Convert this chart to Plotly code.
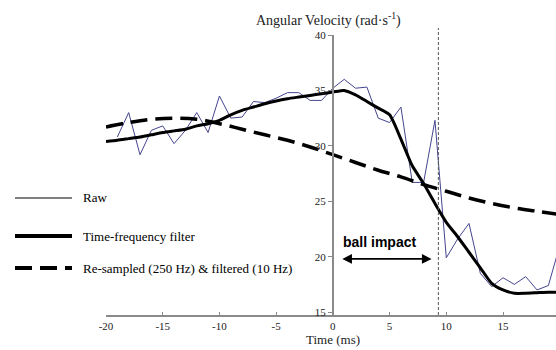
import plotly.graph_objects as go

# ---- data ----
raw_t = list(range(-19, 21))
raw_v = [30.8, 33.0, 29.2, 31.4, 31.8, 30.2, 31.4, 33.0, 31.2, 34.5,
         32.5, 32.6, 34.0, 33.9, 34.3, 34.8, 34.8, 34.1, 34.1, 35.2,
         36.0, 35.2, 35.3, 32.5, 32.1, 33.5, 26.7, 26.7, 32.3, 19.9,
         21.6, 23.0, 18.5, 17.3, 18.1, 17.5, 18.2, 17.0, 17.4, 21.0]

tf_t = list(range(-20, 21))
tf_v = [30.4, 30.5, 30.65, 30.8, 31.0, 31.2, 31.35, 31.5, 31.8, 32.0,
        32.3, 32.8, 33.2, 33.5, 33.8, 34.05, 34.25, 34.4, 34.55, 34.7,
        34.85, 35.0, 34.6, 34.0, 33.4, 32.8, 30.6, 28.2, 26.6, 24.8,
        23.1, 21.8, 20.4, 19.0, 17.6, 17.0, 16.7, 16.7, 16.75, 16.8, 16.8]

rs_t = list(range(-20, 21, 2))
rs_v = [31.7, 32.1, 32.4, 32.5, 32.4, 32.0, 31.5, 31.0, 30.5, 29.9,
        29.2, 28.5, 27.8, 27.2, 26.5, 25.9, 25.3, 24.8, 24.4, 24.1, 23.8]

x_ticks = [-20, -15, -10, -5, 0, 5, 10, 15]
y_ticks = [15, 20, 25, 30, 35, 40]
impact_t = 9.3
arrow_t = [0.7, 8.7]
arrow_v = 19.8

legend_names = ["Raw", "Time-frequency filter", "Re-sampled (250 Hz) & filtered (10 Hz)"]

SERIF = "Liberation Serif"
W, H = 556, 350
L_PX = 106
x_range = [-20, 19.67]
y_range = [14.74, 40]

fig = go.Figure()
fig.add_trace(go.Scatter(x=raw_t, y=raw_v, mode="lines",
                         line=dict(color="#45458f", width=1), name=legend_names[0]))
fig.add_trace(go.Scatter(x=tf_t, y=tf_v, mode="lines",
                         line=dict(color="black", width=3, shape="spline", smoothing=0.6),
                         name=legend_names[1]))
fig.add_trace(go.Scatter(x=rs_t, y=rs_v, mode="lines",
                         line=dict(color="black", width=3.5, dash="17px,8px", shape="spline"),
                         name=legend_names[2]))

y0_frac = (0 - x_range[0]) / (x_range[1] - x_range[0])
dom0 = L_PX / W
ypos = dom0 + (1 - dom0) * y0_frac

fig.update_layout(
    width=W, height=H,
    margin=dict(l=0, r=0, t=35, b=35, autoexpand=False),
    paper_bgcolor="white", plot_bgcolor="white",
    showlegend=False,
    font=dict(family=SERIF, size=11, color="#222"),
    xaxis=dict(domain=[dom0, 1], range=x_range, showgrid=False, zeroline=False,
               showline=True, linecolor="#8a8a8a", linewidth=2,
               ticks="inside", ticklen=3, tickcolor="#8a8a8a",
               tickvals=x_ticks, ticktext=[str(v) for v in x_ticks],
               tickfont=dict(family=SERIF, size=11, color="#222"),
               automargin=False),
    yaxis=dict(range=y_range, anchor="free", position=ypos, showgrid=False,
               zeroline=False, showline=True, linecolor="#8a8a8a", linewidth=2,
               ticks="outside", ticklen=4, tickcolor="#8a8a8a",
               tickvals=y_ticks, ticktext=[str(v) for v in y_ticks],
               tickfont=dict(family=SERIF, size=11, color="#222"),
               automargin=False),
)

# impact line
fig.add_shape(type="line", xref="x", yref="paper", x0=impact_t, x1=impact_t,
              y0=0, y1=1.025, line=dict(color="#555", width=1, dash="3px,2px"))

# ball impact arrow
fig.add_annotation(x=arrow_t[1], y=arrow_v, ax=arrow_t[0], ay=arrow_v,
                   xref="x", yref="y", axref="x", ayref="y", text="",
                   showarrow=True, arrowhead=2, arrowside="end+start",
                   arrowwidth=1.6, arrowsize=1.2, arrowcolor="black")
fig.add_annotation(x=4.1, y=21.3, xref="x", yref="y", text="<b>ball impact</b>",
                   showarrow=False, font=dict(family="Liberation Sans", size=14, color="black"))

# titles
fig.add_annotation(x=328 / W, y=1.055, xref="paper", yref="paper",
                   text="Angular Velocity (rad·s<sup>-1</sup>)", showarrow=False,
                   font=dict(family=SERIF, size=14, color="#222"), yanchor="middle")
fig.add_annotation(x=0, y=-0.12, xref="x", yref="paper", text="Time (ms)",
                   showarrow=False, yanchor="bottom",
                   font=dict(family=SERIF, size=13, color="#222"))

# legend (drawn manually)
leg_y = [(315 - 198) / 280, (315 - 236) / 280, (315 - 268) / 280]
leg_styles = [dict(color="black", width=1),
              dict(color="black", width=4),
              dict(color="black", width=4, dash="17px,8px")]
for name, yy, st in zip(legend_names, leg_y, leg_styles):
    fig.add_shape(type="line", xref="paper", yref="paper", x0=15 / W, x1=72 / W,
                  y0=yy, y1=yy, line=st)
    fig.add_annotation(x=81 / W, y=yy, xref="paper", yref="paper", text=name,
                       showarrow=False, xanchor="left", yanchor="middle",
                       font=dict(family=SERIF, size=13, color="black"))

fig.write_html("out.html", config={"displayModeBar": False},
               post_script="document.body.style.margin='0';document.body.style.overflow='hidden';")
